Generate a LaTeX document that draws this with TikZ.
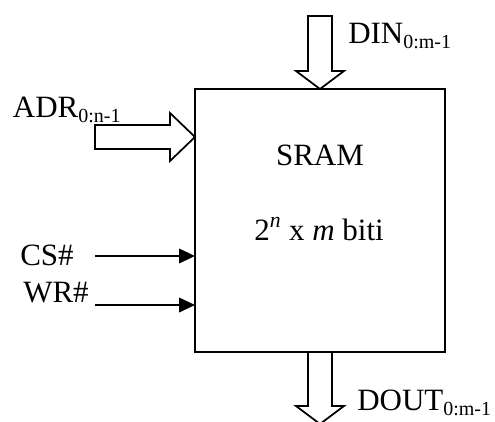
\documentclass[tikz,border=0pt]{standalone}
\usepackage{fontspec}
\setmainfont{Liberation Serif}
\usetikzlibrary{calc,arrows.meta}
\newcommand{\lowsub}[1]{\raisebox{-4pt}{\fontsize{15}{15}\selectfont #1}}
\begin{document}
\begin{tikzpicture}[x=0.75pt,y=-0.75pt,
  lbl/.style={anchor=base west, inner sep=0pt, font=\fontsize{23.25}{28}\selectfont},
  ctr/.style={anchor=base, inner sep=0pt, font=\fontsize{23.25}{28}\selectfont},
  blockarrow/.style={draw=black, line width=1.3pt, fill=white, line join=miter},
  sig/.style={line width=1.3pt, -{Triangle[length=12pt,width=11pt]}},
  boxstyle/.style={draw, line width=1.5pt, minimum width=187.5pt, minimum height=197.25pt, inner sep=0pt, outer sep=0pt}]
\useasboundingbox (0,0) rectangle (495,421);
\node[boxstyle] (sram) at (320,220.5) {};
\node[ctr] (title) at (320,165) {SRAM};
\node[ctr] (size) at (319,240) {2\textsuperscript{\textit{n}} x \textit{m} biti};
% DIN block arrow
\draw[blockarrow] (sram.north) -- ++(24,-18) -- ++(-12,0) -- ++(0,-55) -- ++(-24,0) -- ++(0,55) -- ++(-12,0) -- cycle;
% ADR block arrow
\draw[blockarrow] ($(sram.north west)+(0,48)$) -- ++(-25,-24) -- ++(0,12) -- ++(-75,0) -- ++(0,24) -- ++(75,0) -- ++(0,12) -- cycle;
% DOUT block arrow
\draw[blockarrow, fill=none] (sram.south) ++(-12,0) -- ++(0,54) -- ++(-12,0) -- ++(24,18) -- ++(24,-18) -- ++(-12,0) -- ++(0,-54);
% labels
\node[lbl] (din) at (348,43) {DIN\lowsub{0:m-1}};
\node[lbl] (adr) at (12.7,117) {ADR\lowsub{0:n-1}};
\node[lbl] (cs) at (20,265) {CS\#};
\node[lbl] (wr) at (23,302) {WR\#};
\node[lbl] (dout) at (357,410) {DOUT\lowsub{0:m-1}};
% control signals
\coordinate (cs0) at (95,256);
\coordinate (wr0) at (95,305);
\draw[sig] (cs0) -- (cs0 -| sram.west);
\draw[sig] (wr0) -- (wr0 -| sram.west);
\end{tikzpicture}
\end{document}
